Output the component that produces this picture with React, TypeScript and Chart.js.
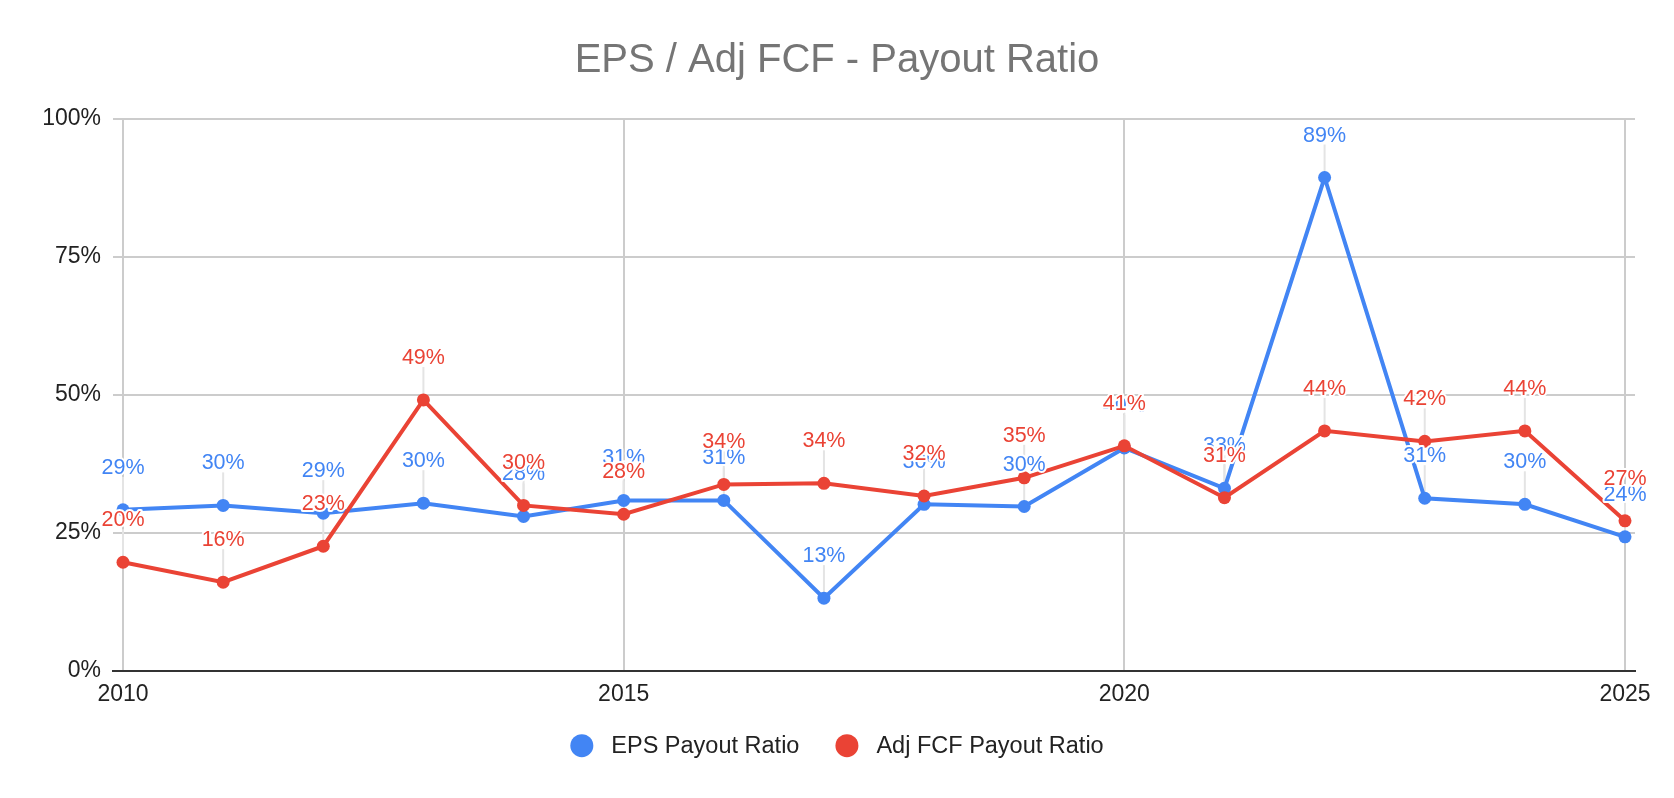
import React, { useEffect, useRef } from "react";
import { Chart, registerables } from "chart.js";

Chart.register(...registerables);

// ---- data ----
const years: number[] = [2010, 2011, 2012, 2013, 2014, 2015, 2016, 2017, 2018, 2019, 2020, 2021, 2022, 2023, 2024, 2025];
const epsPayout: number[] = [29.2, 30.0, 28.6, 30.4, 28.0, 30.9, 30.9, 13.2, 30.2, 29.8, 40.4, 33.1, 89.4, 31.3, 30.2, 24.3];
const fcfPayout: number[] = [19.7, 16.1, 22.6, 49.1, 30.0, 28.4, 33.8, 34.0, 31.7, 35.0, 40.8, 31.4, 43.5, 41.6, 43.5, 27.2];
const xTicks: number[] = [2010, 2015, 2020, 2025];
const yTicks: number[] = [0, 25, 50, 75, 100];
const seriesNames: string[] = ["EPS Payout Ratio", "Adj FCF Payout Ratio"];
const titleText = "EPS / Adj FCF - Payout Ratio";

const BLUE = "#4285F4";
const RED = "#EA4335";
const FONT = "'Liberation Sans', Arial, sans-serif";

const pointLabelPlugin = {
  id: "pointLabels",
  beforeDatasetsDraw(chart: any) {
    const ctx = chart.ctx;
    ctx.save();
    ctx.strokeStyle = "#e4e4e4";
    ctx.lineWidth = 2;
    chart.data.datasets.forEach((_ds: any, i: number) => {
      const meta = chart.getDatasetMeta(i);
      meta.data.forEach((pt: any) => {
        ctx.beginPath();
        ctx.moveTo(pt.x, pt.y - 33);
        ctx.lineTo(pt.x, pt.y);
        ctx.stroke();
      });
    });
    ctx.restore();
  },
  afterDatasetsDraw(chart: any) {
    const ctx = chart.ctx;
    ctx.save();
    ctx.font = `21.5px ${FONT}`;
    ctx.textAlign = "center";
    ctx.textBaseline = "alphabetic";
    ctx.lineJoin = "round";
    chart.data.datasets.forEach((ds: any, i: number) => {
      const meta = chart.getDatasetMeta(i);
      meta.data.forEach((pt: any, j: number) => {
        const txt = Math.round(ds.data[j].y) + "%";
        ctx.lineWidth = 4;
        ctx.strokeStyle = "#ffffff";
        ctx.strokeText(txt, pt.x, pt.y - 36);
        ctx.fillStyle = ds.borderColor;
        ctx.fillText(txt, pt.x, pt.y - 36);
      });
    });
    ctx.restore();
  },
};

// Legend drawn at the bottom centre of the canvas, from the datasets
const bottomLegendPlugin = {
  id: "bottomLegend",
  afterDraw(chart: any) {
    const ctx = chart.ctx;
    const r = 11.5;
    const gapText = 18;
    const gapItem = 36;
    const cy = 745.7;
    ctx.save();
    ctx.font = `23.5px ${FONT}`;
    ctx.textBaseline = "middle";
    ctx.textAlign = "left";
    const items = chart.data.datasets.map((ds: any) => ({
      text: ds.label,
      color: ds.borderColor,
      w: ctx.measureText(ds.label).width,
    }));
    let total = 0;
    items.forEach((it: any, i: number) => {
      total += 2 * r + gapText + it.w + (i > 0 ? gapItem : 0);
    });
    let x = chart.width / 2 - total / 2;
    items.forEach((it: any) => {
      ctx.fillStyle = it.color;
      ctx.beginPath();
      ctx.arc(x + r, cy, r, 0, Math.PI * 2);
      ctx.fill();
      ctx.fillStyle = "#222222";
      ctx.fillText(it.text, x + 2 * r + gapText, cy + 1);
      x += 2 * r + gapText + it.w + gapItem;
    });
    ctx.restore();
  },
};

export default function App() {
  const ref = useRef<HTMLCanvasElement>(null);

  useEffect(() => {
    const canvas = ref.current!;
    const chart = new Chart(canvas, {
      type: "line",
      data: {
        datasets: [
          {
            label: seriesNames[0],
            data: years.map((y, i) => ({ x: y, y: epsPayout[i] })),
            borderColor: BLUE,
            backgroundColor: BLUE,
            pointBackgroundColor: BLUE,
            pointBorderWidth: 0,
            pointRadius: 6.5,
            borderWidth: 4,
            tension: 0,
            order: 1,
          },
          {
            label: seriesNames[1],
            data: years.map((y, i) => ({ x: y, y: fcfPayout[i] })),
            borderColor: RED,
            backgroundColor: RED,
            pointBackgroundColor: RED,
            pointBorderWidth: 0,
            pointRadius: 6.5,
            borderWidth: 4,
            tension: 0,
            order: 0,
          },
        ],
      },
      options: {
        animation: false,
        responsive: true,
        maintainAspectRatio: false,
        layout: { padding: { left: 39, right: 39, top: 0, bottom: 87 } },
        plugins: {
          tooltip: { enabled: false },
          legend: { display: false },
          title: {
            display: true,
            text: titleText,
            color: "#757575",
            font: { family: FONT, size: 40, weight: "normal" },
            padding: { top: 37, bottom: 34 },
          },
        },
        scales: {
          x: {
            type: "linear",
            min: 2009.9,
            max: 2025.1,
            afterBuildTicks: (scale: any) => {
              scale.ticks = xTicks.map((v) => ({ value: v }));
            },
            afterFit: (scale: any) => {
              scale.height = 40;
            },
            ticks: {
              autoSkip: false,
              maxRotation: 0,
              padding: 10.2,
              color: "#222222",
              font: { family: FONT, size: 23 },
              callback: (v: any) => String(v),
            },
            grid: { color: "#cccccc", lineWidth: 2, drawTicks: false },
            border: { display: true, color: "#333333", width: 2 },
          },
          y: {
            min: 0,
            max: 100,
            afterBuildTicks: (scale: any) => {
              scale.ticks = yTicks.map((v) => ({ value: v }));
            },
            afterFit: (scale: any) => {
              scale.width = 74;
            },
            ticks: {
              padding: 12,
              color: "#222222",
              font: { family: FONT, size: 23 },
              callback: (v: any) => v + "%",
            },
            grid: { color: "#cccccc", lineWidth: 2, drawTicks: false },
            border: { display: false },
          },
        },
      },
      plugins: [pointLabelPlugin, bottomLegendPlugin],
    } as any);
    return () => chart.destroy();
  }, []);

  return (
    <div style={{ position: "absolute", left: 0, top: 0, width: 1674, height: 798, background: "#ffffff" }}>
      <canvas ref={ref} />
    </div>
  );
}
